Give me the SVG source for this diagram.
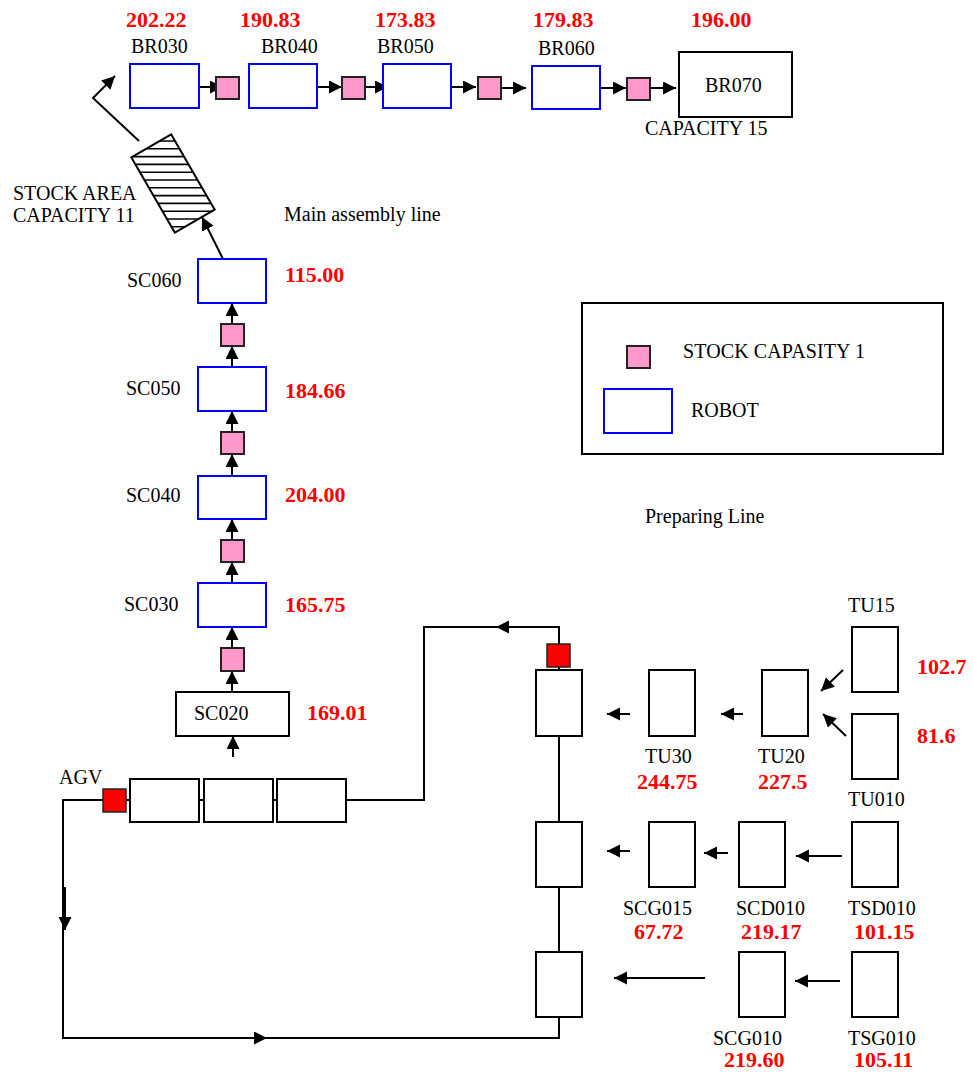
<svg xmlns="http://www.w3.org/2000/svg" width="973" height="1074" viewBox="0 0 973 1074">
<style>
text{font-family:"Liberation Serif","Times New Roman",serif;font-size:20px;fill:#000}
.v{font-weight:bold;font-size:22px;fill:#ff0000}
.robot{fill:#fff;stroke:#0000ff;stroke-width:2}
.box{fill:#fff;stroke:#000;stroke-width:2}
.stock{fill:#ff99cc;stroke:#222;stroke-width:2}
.agv{fill:#ff0000;stroke:#222;stroke-width:1.5}
.ln{fill:none;stroke:#000;stroke-width:2}
.ar{fill:none;stroke:#000;stroke-width:2;marker-end:url(#ah)}
</style>
<defs>
<marker id="ah" markerUnits="userSpaceOnUse" markerWidth="14" markerHeight="14" refX="13" refY="6.5" orient="auto">
<path d="M0,0 L13,6.5 L0,13 z" fill="#000"/>
</marker>
<clipPath id="stockclip"><polygon points="132,157 172,134 214,210 174,233"/></clipPath>
</defs>
<rect width="973" height="1074" fill="#fff"/>

<g id="connectors">
<!-- top row -->
<line class="ar" x1="199" y1="87" x2="223" y2="87"/>
<line class="ar" x1="317" y1="87" x2="342" y2="87"/>
<line class="ar" x1="365" y1="87" x2="388" y2="87"/>
<line class="ar" x1="451" y1="87" x2="476" y2="87"/>
<line class="ar" x1="501" y1="88" x2="526" y2="88"/>
<line class="ar" x1="600" y1="88" x2="626" y2="88"/>
<line class="ar" x1="650" y1="88" x2="676" y2="88"/>
<!-- stock area to BR030 -->
<polyline class="ar" points="139,141 93,98 115,76"/>
<line class="ar" x1="223" y1="259" x2="202" y2="217"/>
<!-- SC column -->
<line class="ar" x1="232" y1="324" x2="232" y2="303"/>
<line class="ar" x1="232" y1="367" x2="232" y2="346"/>
<line class="ar" x1="232" y1="432" x2="232" y2="411"/>
<line class="ar" x1="232" y1="476" x2="232" y2="454"/>
<line class="ar" x1="232" y1="540" x2="232" y2="519"/>
<line class="ar" x1="232" y1="583" x2="232" y2="562"/>
<line class="ar" x1="232" y1="648" x2="232" y2="627"/>
<line class="ar" x1="232" y1="692" x2="232" y2="671"/>
<line class="ar" x1="233" y1="757" x2="233" y2="736"/>
<!-- AGV loop -->
<polyline class="ln" points="103,800 63,800 63,1038 559,1038 559,1017"/>
<line class="ln" x1="126" y1="800" x2="130" y2="800"/>
<line class="ln" x1="199" y1="800" x2="204" y2="800"/>
<line class="ln" x1="273" y1="800" x2="277" y2="800"/>
<polyline class="ln" points="346,800 424,800 424,627 559,627 559,670"/>
<line class="ln" x1="559" y1="736" x2="559" y2="822"/>
<line class="ln" x1="559" y1="887" x2="559" y2="952"/>
<line class="ar" x1="517" y1="627" x2="496" y2="627"/>
<line class="ar" x1="65" y1="887" x2="65" y2="930"/>
<line class="ar" x1="223" y1="1038" x2="267" y2="1038"/>
<!-- preparing line -->
<line class="ar" x1="630" y1="714" x2="607" y2="714"/>
<line class="ar" x1="743" y1="714" x2="721" y2="714"/>
<line class="ar" x1="843" y1="670" x2="821" y2="691"/>
<line class="ar" x1="846" y1="736" x2="823" y2="714"/>
<line class="ar" x1="630" y1="851" x2="607" y2="851"/>
<line class="ar" x1="728" y1="853" x2="704" y2="853"/>
<line class="ar" x1="842" y1="856" x2="796" y2="856"/>
<line class="ar" x1="705" y1="978" x2="614" y2="978"/>
<line class="ar" x1="840" y1="981" x2="795" y2="981"/>
</g>

<g id="BR030"><rect class="robot" x="130" y="64" width="69" height="44"/><text x="131" y="53">BR030</text><text class="v" x="126" y="27">202.22</text></g>
<g id="S_BR030"><rect class="stock" x="216" y="77" width="23" height="22"/></g>
<g id="BR040"><rect class="robot" x="249" y="64" width="68" height="44"/><text x="261" y="53">BR040</text><text class="v" x="240" y="27">190.83</text></g>
<g id="S_BR040"><rect class="stock" x="342" y="77" width="23" height="22"/></g>
<g id="BR050"><rect class="robot" x="383" y="64" width="68" height="44"/><text x="377" y="53">BR050</text><text class="v" x="375" y="27">173.83</text></g>
<g id="S_BR050"><rect class="stock" x="478" y="77" width="23" height="22"/></g>
<g id="BR060"><rect class="robot" x="532" y="66" width="68" height="43"/><text x="538" y="55">BR060</text><text class="v" x="533" y="27">179.83</text></g>
<g id="S_BR060"><rect class="stock" x="627" y="78" width="23" height="22"/></g>
<g id="BR070"><rect class="box" x="679" y="52" width="113" height="65"/><text x="705" y="92">BR070</text><text x="645" y="135">CAPACITY 15</text><text class="v" x="691" y="27">196.00</text></g>

<g id="stock_area">
<rect x="-23" y="-43.5" width="46" height="87" fill="#fff" transform="translate(173,183.5) rotate(-30)"/>
<g clip-path="url(#stockclip)" stroke="#000" stroke-width="1.6">
<line x1="120" y1="141" x2="230" y2="141"/><line x1="120" y1="148.8" x2="230" y2="148.8"/><line x1="120" y1="156.6" x2="230" y2="156.6"/><line x1="120" y1="164.4" x2="230" y2="164.4"/><line x1="120" y1="172.2" x2="230" y2="172.2"/><line x1="120" y1="180" x2="230" y2="180"/><line x1="120" y1="187.8" x2="230" y2="187.8"/><line x1="120" y1="195.6" x2="230" y2="195.6"/><line x1="120" y1="203.4" x2="230" y2="203.4"/><line x1="120" y1="211.2" x2="230" y2="211.2"/><line x1="120" y1="219" x2="230" y2="219"/><line x1="120" y1="226.8" x2="230" y2="226.8"/>
</g>
<rect x="-23" y="-43.5" width="46" height="87" fill="none" stroke="#000" stroke-width="2" transform="translate(173,183.5) rotate(-30)"/>
<text x="13" y="200">STOCK AREA</text><text x="13" y="222">CAPACITY 11</text>
</g>
<g id="label_main"><text x="284" y="221">Main assembly line</text></g>

<g id="SC060"><rect class="robot" x="198" y="259" width="68" height="44"/><text x="127" y="287">SC060</text><text class="v" x="285" y="282">115.00</text></g>
<g id="S_SC060"><rect class="stock" x="221" y="324" width="23" height="22"/></g>
<g id="SC050"><rect class="robot" x="198" y="367" width="68" height="44"/><text x="126" y="395">SC050</text><text class="v" x="285" y="398">184.66</text></g>
<g id="S_SC050"><rect class="stock" x="221" y="432" width="23" height="22"/></g>
<g id="SC040"><rect class="robot" x="198" y="476" width="68" height="43"/><text x="126" y="502">SC040</text><text class="v" x="285" y="502">204.00</text></g>
<g id="S_SC040"><rect class="stock" x="221" y="540" width="23" height="22"/></g>
<g id="SC030"><rect class="robot" x="198" y="583" width="68" height="44"/><text x="124" y="611">SC030</text><text class="v" x="285" y="612">165.75</text></g>
<g id="S_SC030"><rect class="stock" x="221" y="648" width="23" height="23"/></g>
<g id="SC020"><rect class="box" x="176" y="692" width="113" height="44"/><text x="194" y="720">SC020</text><text class="v" x="307" y="720">169.01</text></g>

<g id="AGV"><rect class="agv" x="103" y="789" width="23" height="23"/><text x="59" y="784">AGV</text></g>
<g id="buffer1"><rect class="box" x="130" y="779" width="69" height="43"/></g>
<g id="buffer2"><rect class="box" x="204" y="779" width="69" height="43"/></g>
<g id="buffer3"><rect class="box" x="277" y="779" width="69" height="43"/></g>

<g id="legend">
<rect x="582" y="303" width="361" height="151" fill="#fff" stroke="#000" stroke-width="2"/>
<rect class="stock" x="627" y="346" width="23" height="22"/>
<text x="683" y="358" textLength="182" lengthAdjust="spacing">STOCK CAPASITY 1</text>
<rect class="robot" x="604" y="389" width="68" height="44"/>
<text x="691" y="417">ROBOT</text>
</g>
<g id="label_prep"><text x="645" y="523">Preparing Line</text></g>

<g id="AGV_out"><rect class="agv" x="547" y="644" width="23" height="23"/></g>
<g id="col1"><rect class="box" x="536" y="670" width="46" height="66"/></g>
<g id="col2"><rect class="box" x="536" y="822" width="46" height="65"/></g>
<g id="col3"><rect class="box" x="536" y="952" width="46" height="65"/></g>

<g id="TU30"><rect class="box" x="649" y="670" width="46" height="66"/><text x="645" y="763">TU30</text><text class="v" x="637" y="789">244.75</text></g>
<g id="TU20"><rect class="box" x="762" y="670" width="46" height="66"/><text x="758" y="763">TU20</text><text class="v" x="758" y="789">227.5</text></g>
<g id="TU15"><rect class="box" x="852" y="627" width="46" height="65"/><text x="848" y="612">TU15</text><text class="v" x="917" y="674">102.7</text></g>
<g id="TU010"><rect class="box" x="852" y="714" width="46" height="65"/><text x="848" y="806">TU010</text><text class="v" x="917" y="743">81.6</text></g>

<g id="SCG015"><rect class="box" x="649" y="822" width="46" height="65"/><text x="623" y="915">SCG015</text><text class="v" x="634" y="939">67.72</text></g>
<g id="SCD010"><rect class="box" x="739" y="822" width="46" height="65"/><text x="736" y="915">SCD010</text><text class="v" x="741" y="939">219.17</text></g>
<g id="TSD010"><rect class="box" x="852" y="822" width="46" height="65"/><text x="848" y="915">TSD010</text><text class="v" x="854" y="939">101.15</text></g>
<g id="SCG010"><rect class="box" x="739" y="952" width="46" height="65"/><text x="713" y="1045">SCG010</text><text class="v" x="724" y="1067">219.60</text></g>
<g id="TSG010"><rect class="box" x="852" y="952" width="46" height="65"/><text x="848" y="1045">TSG010</text><text class="v" x="854" y="1067">105.11</text></g>
</svg>
